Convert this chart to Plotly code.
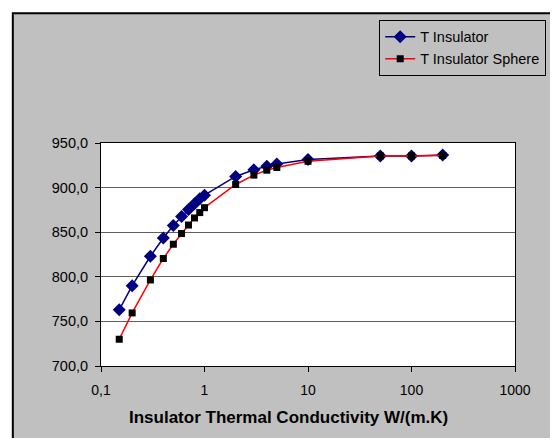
import plotly.graph_objects as go

# Insulator thermal conductivity W/(m.K)
conductivity = [0.15, 0.2, 0.3, 0.4, 0.5, 0.6, 0.7, 0.8, 0.9, 1.0,
                2, 3, 4, 5, 10, 50, 100, 200]

# Temperatures
t_insulator = [763, 790, 823, 843.5, 857.5, 867.5, 875.5, 882, 887.5, 891.5,
               912.5, 920, 924, 926.5, 931.5, 935.5, 935.5, 936.5]
t_insulator_sphere = [730, 759.5, 796.5, 820.5, 836.5, 848.5, 858, 866, 872, 877.5,
                      903.5, 914, 919.5, 922.5, 929.5, 935.5, 935.5, 936]

x_tickvals = [0.1, 1, 10, 100, 1000]
x_ticktext = ["0,1", "1", "10", "100", "1000"]

fig = go.Figure()

fig.add_trace(go.Scatter(
    x=conductivity, y=t_insulator, name="T Insulator",
    mode="lines+markers",
    line=dict(color="#000080", width=1.5),
    marker=dict(symbol="diamond", size=10, color="#000080"),
))
fig.add_trace(go.Scatter(
    x=conductivity, y=t_insulator_sphere, name="T Insulator Sphere",
    mode="lines+markers",
    line=dict(color="#ff0000", width=1.5),
    marker=dict(symbol="square", size=7, color="#000000"),
))

# grey chart area with black frame, white plot area on top of it
fig.add_shape(type="rect", xref="paper", yref="paper",
              x0=-0.213, x1=1.15, y0=-0.4, y1=1.582,
              fillcolor="#c0c0c0", line=dict(color="black", width=2), layer="below")
fig.add_shape(type="rect", xref="paper", yref="paper",
              x0=0, x1=1, y0=0, y1=1,
              fillcolor="white", line=dict(width=0), layer="below")

# x axis title is centred on the chart area, not the plot area
fig.add_annotation(
    text="<b>Insulator Thermal Conductivity W/(m.K)</b>",
    xref="paper", yref="paper", x=0.452, y=-0.232,
    xanchor="center", yanchor="middle", showarrow=False,
    font=dict(size=17),
)

# the page body adds 8px around the figure, so the figure is 8px smaller
fig.update_layout(
    width=550, height=430,
    margin=dict(l=93, r=39, t=132, b=72),
    paper_bgcolor="white",
    plot_bgcolor="white",
    separators=",.",
    font=dict(family="Liberation Sans, Arial, sans-serif", size=14, color="black"),
    showlegend=True,
    legend=dict(
        x=0.672, y=1.552, xanchor="left", yanchor="top",
        bgcolor="#c0c0c0", bordercolor="black", borderwidth=1,
        font=dict(size=14.5), tracegroupgap=0,
    ),
    xaxis=dict(
        type="log", range=[-1, 3],
        tickvals=x_tickvals, ticktext=x_ticktext,
        showgrid=False, zeroline=False,
        showline=True, linecolor="black", linewidth=1, mirror=True,
        ticks="outside", ticklen=5, tickcolor="black",
        tickfont=dict(size=14), ticklabelstandoff=6,
    ),
    yaxis=dict(
        range=[700, 950], dtick=50, tickformat=".1f",
        showgrid=True, gridcolor="#606060", gridwidth=1,
        zeroline=False,
        showline=True, linecolor="black", linewidth=1, mirror=True,
        ticks="outside", ticklen=5, tickcolor="black",
        tickfont=dict(size=14.5), ticklabelstandoff=4,
    ),
)

fig.write_html("out.html")
